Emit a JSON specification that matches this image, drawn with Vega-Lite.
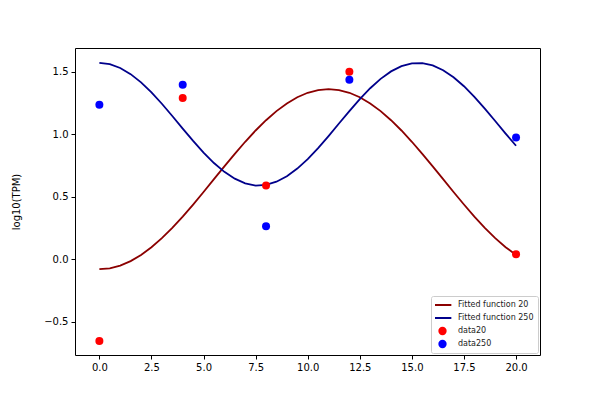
{
  "$schema": "https://vega.github.io/schema/vega-lite/v6.json",
  "width": 465,
  "height": 307,
  "autosize": {"type": "none"},
  "padding": {"left": 75, "top": 48, "right": 60, "bottom": 45},
  "background": "white",
  "config": {
    "view": {"stroke": "black", "strokeWidth": 1},
    "font": "DejaVu Sans",
    "axis": {
      "grid": false,
      "domain": false,
      "tickColor": "black",
      "tickSize": 4,
      "labelColor": "black",
      "labelFontSize": 10,
      "labelFont": "DejaVu Sans",
      "titleFont": "DejaVu Sans",
      "titleFontSize": 10,
      "titleFontWeight": "normal",
      "titleColor": "black"
    }
  },
  "datasets": {
    "curves": [
      {"x": 0, "y": -0.08, "series": "Fitted function 20"},
      {"x": 0.5, "y": -0.0727, "series": "Fitted function 20"},
      {"x": 1, "y": -0.0508, "series": "Fitted function 20"},
      {"x": 1.5, "y": -0.0149, "series": "Fitted function 20"},
      {"x": 2, "y": 0.0343, "series": "Fitted function 20"},
      {"x": 2.5, "y": 0.0959, "series": "Fitted function 20"},
      {"x": 3, "y": 0.1685, "series": "Fitted function 20"},
      {"x": 3.5, "y": 0.2507, "series": "Fitted function 20"},
      {"x": 4, "y": 0.3409, "series": "Fitted function 20"},
      {"x": 4.5, "y": 0.4372, "series": "Fitted function 20"},
      {"x": 5, "y": 0.5375, "series": "Fitted function 20"},
      {"x": 5.5, "y": 0.64, "series": "Fitted function 20"},
      {"x": 6, "y": 0.7425, "series": "Fitted function 20"},
      {"x": 6.5, "y": 0.8428, "series": "Fitted function 20"},
      {"x": 7, "y": 0.9391, "series": "Fitted function 20"},
      {"x": 7.5, "y": 1.0293, "series": "Fitted function 20"},
      {"x": 8, "y": 1.1115, "series": "Fitted function 20"},
      {"x": 8.5, "y": 1.1841, "series": "Fitted function 20"},
      {"x": 9, "y": 1.2457, "series": "Fitted function 20"},
      {"x": 9.5, "y": 1.2949, "series": "Fitted function 20"},
      {"x": 10, "y": 1.3308, "series": "Fitted function 20"},
      {"x": 10.5, "y": 1.3527, "series": "Fitted function 20"},
      {"x": 11, "y": 1.36, "series": "Fitted function 20"},
      {"x": 11.5, "y": 1.3527, "series": "Fitted function 20"},
      {"x": 12, "y": 1.3308, "series": "Fitted function 20"},
      {"x": 12.5, "y": 1.2949, "series": "Fitted function 20"},
      {"x": 13, "y": 1.2457, "series": "Fitted function 20"},
      {"x": 13.5, "y": 1.1841, "series": "Fitted function 20"},
      {"x": 14, "y": 1.1115, "series": "Fitted function 20"},
      {"x": 14.5, "y": 1.0293, "series": "Fitted function 20"},
      {"x": 15, "y": 0.9391, "series": "Fitted function 20"},
      {"x": 15.5, "y": 0.8428, "series": "Fitted function 20"},
      {"x": 16, "y": 0.7425, "series": "Fitted function 20"},
      {"x": 16.5, "y": 0.64, "series": "Fitted function 20"},
      {"x": 17, "y": 0.5375, "series": "Fitted function 20"},
      {"x": 17.5, "y": 0.4372, "series": "Fitted function 20"},
      {"x": 18, "y": 0.3409, "series": "Fitted function 20"},
      {"x": 18.5, "y": 0.2507, "series": "Fitted function 20"},
      {"x": 19, "y": 0.1685, "series": "Fitted function 20"},
      {"x": 19.5, "y": 0.0959, "series": "Fitted function 20"},
      {"x": 20, "y": 0.0343, "series": "Fitted function 20"},
      {"x": 0, "y": 1.57, "series": "Fitted function 250"},
      {"x": 0.5, "y": 1.5597, "series": "Fitted function 250"},
      {"x": 1, "y": 1.5293, "series": "Fitted function 250"},
      {"x": 1.5, "y": 1.48, "series": "Fitted function 250"},
      {"x": 2, "y": 1.4138, "series": "Fitted function 250"},
      {"x": 2.5, "y": 1.3337, "series": "Fitted function 250"},
      {"x": 3, "y": 1.2432, "series": "Fitted function 250"},
      {"x": 3.5, "y": 1.1452, "series": "Fitted function 250"},
      {"x": 4, "y": 1.0448, "series": "Fitted function 250"},
      {"x": 4.5, "y": 0.9458, "series": "Fitted function 250"},
      {"x": 5, "y": 0.8526, "series": "Fitted function 250"},
      {"x": 5.5, "y": 0.7692, "series": "Fitted function 250"},
      {"x": 6, "y": 0.6988, "series": "Fitted function 250"},
      {"x": 6.5, "y": 0.6441, "series": "Fitted function 250"},
      {"x": 7, "y": 0.607, "series": "Fitted function 250"},
      {"x": 7.5, "y": 0.5891, "series": "Fitted function 250"},
      {"x": 8, "y": 0.595, "series": "Fitted function 250"},
      {"x": 8.5, "y": 0.6196, "series": "Fitted function 250"},
      {"x": 9, "y": 0.6634, "series": "Fitted function 250"},
      {"x": 9.5, "y": 0.7247, "series": "Fitted function 250"},
      {"x": 10, "y": 0.8006, "series": "Fitted function 250"},
      {"x": 10.5, "y": 0.8891, "series": "Fitted function 250"},
      {"x": 11, "y": 0.985, "series": "Fitted function 250"},
      {"x": 11.5, "y": 1.085, "series": "Fitted function 250"},
      {"x": 12, "y": 1.1847, "series": "Fitted function 250"},
      {"x": 12.5, "y": 1.2802, "series": "Fitted function 250"},
      {"x": 13, "y": 1.3673, "series": "Fitted function 250"},
      {"x": 13.5, "y": 1.4421, "series": "Fitted function 250"},
      {"x": 14, "y": 1.5019, "series": "Fitted function 250"},
      {"x": 14.5, "y": 1.5438, "series": "Fitted function 250"},
      {"x": 15, "y": 1.5663, "series": "Fitted function 250"},
      {"x": 15.5, "y": 1.5683, "series": "Fitted function 250"},
      {"x": 16, "y": 1.5499, "series": "Fitted function 250"},
      {"x": 16.5, "y": 1.5117, "series": "Fitted function 250"},
      {"x": 17, "y": 1.4554, "series": "Fitted function 250"},
      {"x": 17.5, "y": 1.3832, "series": "Fitted function 250"},
      {"x": 18, "y": 1.2986, "series": "Fitted function 250"},
      {"x": 18.5, "y": 1.2044, "series": "Fitted function 250"},
      {"x": 19, "y": 1.1051, "series": "Fitted function 250"},
      {"x": 19.5, "y": 1.0048, "series": "Fitted function 250"},
      {"x": 20, "y": 0.9076, "series": "Fitted function 250"}
    ],
    "points": [
      {"x": 0, "y": -0.654, "series": "data20"},
      {"x": 4, "y": 1.29, "series": "data20"},
      {"x": 8, "y": 0.59, "series": "data20"},
      {"x": 12, "y": 1.5, "series": "data20"},
      {"x": 20, "y": 0.04, "series": "data20"},
      {"x": 0, "y": 1.236, "series": "data250"},
      {"x": 4, "y": 1.395, "series": "data250"},
      {"x": 8, "y": 0.263, "series": "data250"},
      {"x": 12, "y": 1.435, "series": "data250"},
      {"x": 20, "y": 0.973, "series": "data250"}
    ]
  },
  "layer": [
    {
      "data": {"name": "curves"},
      "mark": {"type": "line", "strokeWidth": 1.8},
      "encoding": {
        "x": {
          "field": "x",
          "type": "quantitative",
          "scale": {"domain": [-1.17, 21.15], "nice": false, "zero": false},
          "axis": {"values": [0, 2.5, 5, 7.5, 10, 12.5, 15, 17.5, 20], "format": ".1f", "title": null, "labelPadding": 3}
        },
        "y": {
          "field": "y",
          "type": "quantitative",
          "scale": {"domain": [-0.766, 1.689], "nice": false, "zero": false},
          "axis": {"values": [-0.5, 0, 0.5, 1, 1.5], "format": ".1f", "title": "log10(TPM)", "titlePadding": 22, "labelPadding": 3}
        },
        "color": {"field": "series", "type": "nominal"},
        "detail": {"field": "series"}
      }
    },
    {
      "data": {"name": "points"},
      "mark": {"type": "point", "filled": true, "opacity": 1, "size": 64},
      "encoding": {
        "x": {"field": "x", "type": "quantitative"},
        "y": {"field": "y", "type": "quantitative"},
        "color": {
          "field": "series",
          "type": "nominal",
          "scale": {
            "domain": ["Fitted function 20", "Fitted function 250", "data20", "data250"],
            "range": ["#8B0000", "#00008B", "#FF0000", "#0000FF"]
          },
          "legend": {
            "title": null,
            "orient": "bottom-right",
            "offset": 2,
            "padding": 4,
            "strokeColor": "#cccccc",
            "fillColor": "white",
            "cornerRadius": 2,
            "labelFontSize": 8,
            "labelColor": "#222222",
            "labelOffset": 11,
            "symbolOffset": 3,
            "rowPadding": 3,
            "clipHeight": 10,
            "symbolSize": 40,
            "symbolStrokeWidth": 2,
            "encode": {
              "symbols": {
                "update": {
                  "stroke": {"scale": "color", "field": "value"},
                  "strokeWidth": {"value": 2}
                }
              }
            }
          }
        },
        "shape": {
          "field": "series",
          "type": "nominal",
          "scale": {
            "domain": ["Fitted function 20", "Fitted function 250", "data20", "data250"],
            "range": ["M-2.8,0H2.8", "M-2.8,0H2.8", "circle", "circle"]
          }
        }
      }
    }
  ]
}
